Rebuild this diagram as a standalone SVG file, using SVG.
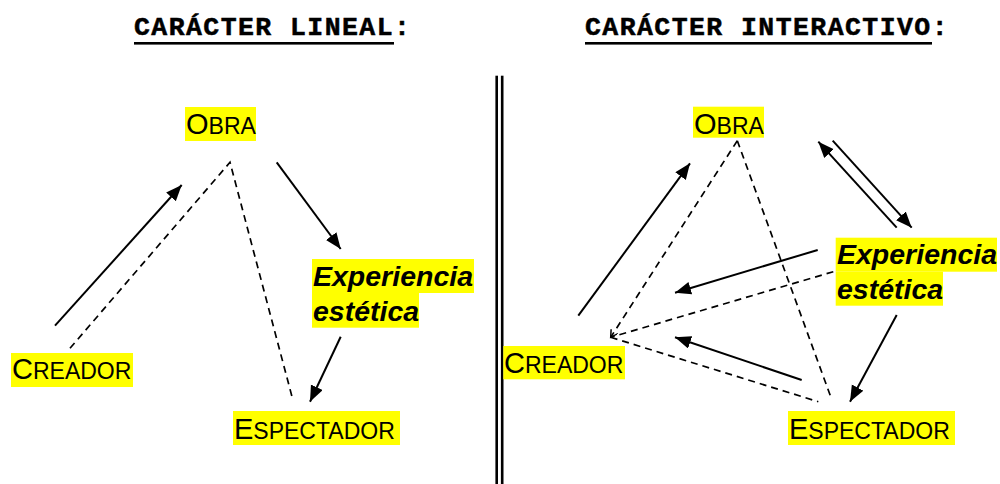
<svg xmlns="http://www.w3.org/2000/svg" width="1000" height="484" viewBox="0 0 1000 484">
<style>
.title{font-family:"Liberation Mono","Courier New",monospace;font-weight:bold;font-size:26.5px;letter-spacing:1.43px;fill:#000;stroke:#000;stroke-width:0.5}
.lbl{font-family:"Liberation Sans",Arial,sans-serif;fill:#000;font-size:23px}
.big{font-size:29px}
.exp{font-family:"Liberation Sans",Arial,sans-serif;font-weight:bold;font-style:italic;font-size:28.5px;fill:#000}
.hl{fill:#ffff00}
.solid{stroke:#000;stroke-width:2;fill:none;marker-end:url(#ah)}
.dash{stroke:#000;stroke-width:1.7;fill:none;stroke-dasharray:7,5}
</style>
<defs>
<marker id="ah" markerUnits="userSpaceOnUse" markerWidth="18" markerHeight="14" refX="16" refY="6.5" orient="auto">
<path d="M0,0 L16,6.5 L0,13 z" fill="#000"/>
</marker>
<marker id="sm" markerUnits="userSpaceOnUse" markerWidth="10" markerHeight="10" refX="7" refY="4" orient="auto">
<path d="M0,0 L7,4 L0,8" fill="none" stroke="#000" stroke-width="1.5"/>
</marker>
</defs>
<rect width="1000" height="484" fill="#fff"/>
<g id="titles">
<text class="title" x="134" y="35">CARÁCTER LINEAL:</text>
<rect x="134" y="42" width="260" height="2.6" fill="#000"/>
<text class="title" x="585" y="35">CARÁCTER INTERACTIVO:</text>
<rect x="585" y="42" width="347" height="2.6" fill="#000"/>
</g>
<g id="divider">
<rect x="495.4" y="75.7" width="2.6" height="409" fill="#000"/>
<rect x="500.9" y="75.7" width="2.6" height="409" fill="#000"/>
</g>
<g id="connectors">
<line class="solid" x1="55" y1="325.7" x2="181.7" y2="185"/>
<polyline class="dash" points="70,348.3 230,162.3 292.7,399.3"/>
<line class="solid" x1="276.7" y1="162.3" x2="340.7" y2="249"/>
<line class="solid" x1="340.7" y1="336.7" x2="310" y2="401.7"/>
<line class="solid" x1="578.3" y1="315.7" x2="690" y2="163.3"/>
<line class="dash" x1="737.3" y1="140.7" x2="610.7" y2="337.3" marker-end="url(#sm)"/>
<line class="dash" x1="737.3" y1="140.7" x2="830.7" y2="396.7"/>
<line class="dash" x1="833.3" y1="271.7" x2="610.7" y2="337.3"/>
<line class="dash" x1="610.7" y1="337.3" x2="818.3" y2="401.7"/>
<line class="solid" x1="817.7" y1="250" x2="675" y2="292.7"/>
<line class="solid" x1="801.7" y1="380" x2="675" y2="337.3"/>
<line class="solid" x1="896.7" y1="227.7" x2="818.3" y2="141.7"/>
<line class="solid" x1="832.7" y1="140.7" x2="911.7" y2="227.7"/>
<line class="solid" x1="896.7" y1="315" x2="850" y2="401.7"/>
</g>
<g id="obra-l">
<rect class="hl" x="185" y="107" width="71" height="34"/>
<text class="lbl" x="186" y="134"><tspan class="big">O</tspan>BRA</text>
</g>
<g id="creador-l">
<rect class="hl" x="11" y="353" width="122" height="34"/>
<text class="lbl" x="12" y="379.3"><tspan class="big">C</tspan>READOR</text>
</g>
<g id="espectador-l">
<rect class="hl" x="233" y="411" width="167" height="34"/>
<text class="lbl" x="234" y="439"><tspan class="big">E</tspan>SPECTADOR</text>
</g>
<g id="experiencia-l">
<rect class="hl" x="312" y="259" width="162" height="34"/>
<rect class="hl" x="312" y="292.7" width="107" height="35"/>
<text class="exp" x="313" y="285.7">Experiencia</text>
<text class="exp" x="313" y="320.7">estética</text>
</g>
<g id="obra-r">
<rect class="hl" x="693" y="106.7" width="71" height="31"/>
<text class="lbl" x="694" y="134"><tspan class="big">O</tspan>BRA</text>
</g>
<g id="creador-r">
<rect class="hl" x="503.3" y="346" width="121.7" height="33.3"/>
<text class="lbl" x="504" y="373.3"><tspan class="big">C</tspan>READOR</text>
</g>
<g id="espectador-r">
<rect class="hl" x="788" y="411" width="167" height="34"/>
<text class="lbl" x="789" y="439"><tspan class="big">E</tspan>SPECTADOR</text>
</g>
<g id="experiencia-r">
<rect class="hl" x="835.7" y="237.7" width="161.3" height="34"/>
<rect class="hl" x="835.7" y="271.7" width="107.3" height="34"/>
<text class="exp" x="837" y="264.3">Experiencia</text>
<text class="exp" x="837" y="299">estética</text>
</g>
</svg>
